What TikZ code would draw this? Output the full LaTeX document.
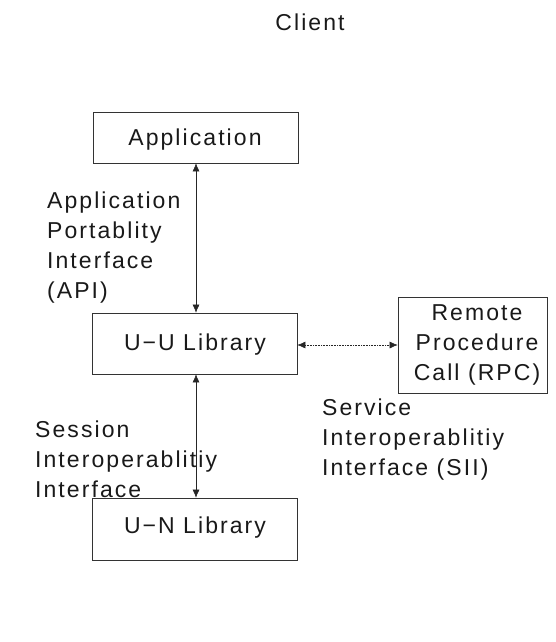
\documentclass[tikz,border=0pt]{standalone}
\usepackage{fontspec}
\setmainfont{Liberation Sans}[LetterSpace=9]
\usetikzlibrary{arrows.meta}
\begin{document}
\begin{tikzpicture}[x=1pt,y=-1pt,
  every node/.style={font=\fontsize{23}{30}\selectfont, inner sep=0pt, text=black!90},
  box/.style={draw=black!80, line width=0.7pt},
  link/.style={draw=black!85, line width=0.6pt, {Latex[length=8pt,width=7pt]}-{Latex[length=8pt,width=7pt]}},
  dlink/.style={link, densely dotted},
  lbl/.style={align=left, anchor=base west}]
\useasboundingbox (0,0) rectangle (555,642);
\node[anchor=base] (client) at (310,31) {Client};
% boxes
\node[box, minimum width=205pt, minimum height=51pt] (app) at (195.5,137.5) {};
\node[anchor=base] (apptxt) at (195,145) {Application};
\node[box, minimum width=205pt, minimum height=61pt] (uu) at (194.5,343.5) {};
\node[anchor=base] (uutxt) at (195,350) {U−U Library};
\node[box, minimum width=205pt, minimum height=62pt] (un) at (194.5,529) {};
\node[anchor=base] (untxt) at (195,533) {U−N Library};
\node[box, minimum width=149pt, minimum height=96pt] (rpc) at (472.5,345) {};
\node[align=center, anchor=base] (rpctxt) at (477,380) {Remote\\Procedure\\Call (RPC)};
% labels
\node[lbl] (api) at (47,298) {Application\\Portablity\\Interface\\(API)};
\node[lbl] (sess) at (35,497) {Session\\Interoperablitiy\\Interface};
\node[lbl] (sii) at (322,475) {Service\\Interoperablitiy\\Interface (SII)};
% connectors
\coordinate (a1) at (196,163); \coordinate (a2) at (196,313);
\coordinate (b1) at (196,374); \coordinate (b2) at (196,498);
\draw[link] (app.south -| a1) -- (uu.north -| a2);
\draw[link] (uu.south -| b1) -- (un.north -| b2);
\draw[dlink] (uu.east |- rpc.west) -- (rpc.west);
\end{tikzpicture}
\end{document}
